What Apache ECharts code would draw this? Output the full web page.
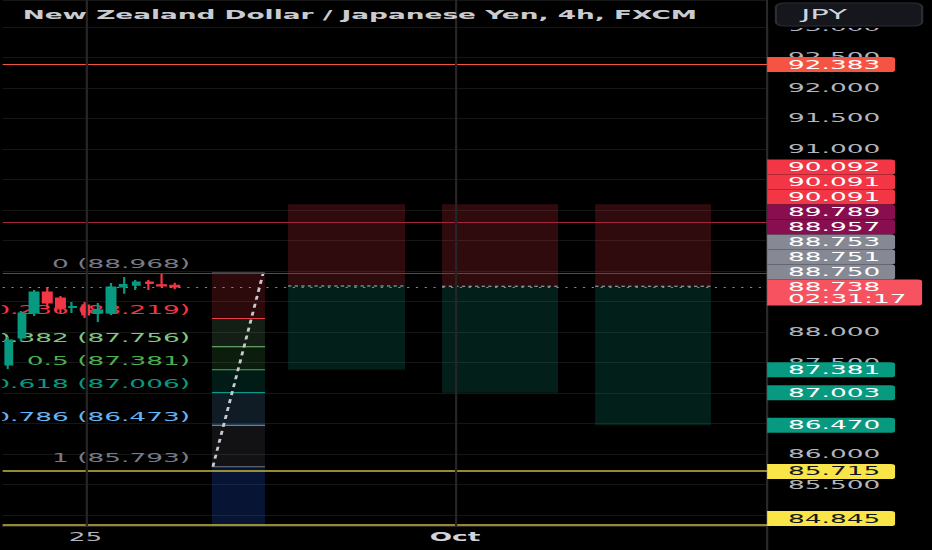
<!DOCTYPE html>
<html><head><meta charset="utf-8">
<script src="https://cdn.jsdelivr.net/npm/echarts@6/dist/echarts.min.js"></script>
<style>
html,body{margin:0;padding:0;background:#000;overflow:hidden;}
#wrap{width:932px;height:550px;overflow:hidden;background:#000;}
#chart{width:424px;height:550px;transform:scaleX(2.19811);transform-origin:0 0;}
</style></head>
<body><div id="wrap"><div id="chart"></div></div>
<script>
// ---- data ----
const titleText = 'New Zealand Dollar / Japanese Yen, 4h, FXCM';
const currencyText = 'JPY';
const countdownText = '02:31:17';

const categories = [
  '09-22 00:00','09-22 04:00','09-22 08:00','09-22 12:00','09-22 16:00','09-24 20:00',
  '09-25 00:00','09-25 04:00','09-25 08:00','09-25 12:00','09-25 16:00','09-25 20:00',
  '09-26 00:00','09-26 04:00','09-26 08:00','09-26 12:00','09-26 16:00','09-26 20:00',
  '09-27 00:00','09-27 04:00','09-27 08:00','09-27 12:00','09-27 16:00','09-27 20:00',
  '09-28 00:00','09-28 04:00','09-28 08:00','09-28 12:00','09-28 16:00','09-28 20:00',
  '09-29 00:00','09-29 04:00','09-29 08:00','09-29 12:00','09-29 16:00',
  '10-01 20:00',
  '10-02 00:00','10-02 04:00','10-02 08:00','10-02 12:00','10-02 16:00','10-02 20:00',
  '10-03 00:00','10-03 04:00','10-03 08:00','10-03 12:00','10-03 16:00','10-03 20:00',
  '10-04 00:00','10-04 04:00','10-04 08:00','10-04 12:00','10-04 16:00','10-04 20:00',
  '10-05 00:00','10-05 04:00','10-05 08:00','10-05 12:00','10-05 16:00','10-05 20:00'
];
const xTickLabels = {'09-25 00:00': '25', '10-01 20:00': 'Oct'};
const boldTicks = ['10-01 20:00'];

const candleOpen  = [87.458, 87.901, 88.311, 88.655, 88.556, 88.401, 88.442, 88.311, 88.311, 88.737, 88.764, 88.818, 88.774, 88.764];
const candleClose = [87.868, 88.311, 88.655, 88.474, 88.392, 88.417, 88.278, 88.360, 88.737, 88.778, 88.818, 88.794, 88.753, 88.738];
const candleLow   = [87.393, 87.852, 88.261, 88.409, 88.311, 88.311, 88.229, 88.163, 88.278, 88.627, 88.688, 88.688, 88.737, 88.699];
const candleHigh  = [87.917, 88.343, 88.688, 88.737, 88.589, 88.491, 88.491, 88.474, 88.802, 88.901, 88.851, 88.851, 88.960, 88.807];

const yMin = 84.82, yMax = 93.44, yStep = 0.5;

// fib retracement
const fibRatios = [0, 0.236, 0.382, 0.5, 0.618, 0.786, 1, 1.618];
const fibPrices = [88.968, 88.219, 87.756, 87.381, 87.006, 86.473, 85.793, 83.831];
const fibStartX = 15.93, fibEndX = 20.09;
const trendFrom = [16.0, 85.793], trendTo = [19.95, 88.968];

// long positions
const posStart  = [21.9, 33.99, 46.0];
const posEnd    = [31.08, 43.09, 55.1];
const posStop   = [90.092, 90.091, 90.091];
const posEntry  = [88.753, 88.751, 88.750];
const posTarget = [87.381, 87.003, 86.470];

// horizontal lines
const hLinePrices = [92.383, 89.789, 88.957, 85.715, 84.845, 88.738];
const hLineKinds  = ['alert', 'level', 'level', 'support', 'support', 'last'];

// price scale tags
const tagPrices = [92.383, 90.092, 90.091, 90.091, 89.789, 88.957, 88.753, 88.751, 88.750, 88.738, 87.381, 87.003, 86.470, 85.715, 84.845];
const tagKinds  = ['alert','stop','stop','stop','level','level','entry','entry','entry','last','target','target','target','support','support'];

// ---- styles ----
const FONT = '"DejaVu Sans", Verdana, sans-serif';
const FS = 12;
const fibColors = ['#787b86','#f23645','#81c784','#4caf50','#089981','#64b5f6','#787b86','#2962ff'];
const fibFills  = ['', 'rgba(242,54,69,0.18)','rgba(129,199,132,0.15)','rgba(76,175,80,0.16)','rgba(8,153,129,0.18)','rgba(100,181,246,0.15)','rgba(120,123,134,0.15)','rgba(41,98,255,0.2)'];
const lineStyles = {
  alert:   {color:'#f55442', width:1, type:'solid'},
  level:   {color:'#a3243f', width:1, type:'solid'},
  support: {color:'#c9b83c', width:1.5, type:'solid'},
  last:    {color:'#f7525f', width:1, type:[1,3]}
};
const tagStyle = {
  alert:   {bg:'#f55442', fg:'#ffffff', w:58.2},
  stop:    {bg:'#f23645', fg:'#ffffff', w:58.2},
  level:   {bg:'#880e4f', fg:'#ffffff', w:58.2},
  entry:   {bg:'#868993', fg:'#ffffff', w:58.2},
  last:    {bg:'#f7525f', fg:'#ffffff', w:70.5},
  target:  {bg:'#089981', fg:'#ffffff', w:58.2},
  support: {bg:'#f9e547', fg:'#131722', w:58.2}
};
const TAG_H = 15, LAST_H = 26;
const GRID = {left: 1.2, right: 75, top: 0, bottom: 24};

const chartEl = document.getElementById('chart');
const chart = echarts.init(chartEl, null, {renderer:'svg'});
const W = chart.getWidth(), H = chart.getHeight();

const candleData = candleOpen.map((o, i) => [o, candleClose[i], candleLow[i], candleHigh[i]]);

// stack price-scale tags like the trading terminal does (pixel positions come from the axis)
function layoutTags(toY, paneBottom) {
  const n = tagPrices.length;
  const cy = tagPrices.map(toY);
  const h = tagKinds.map(k => k === 'last' ? LAST_H : TAG_H);
  const tops = new Array(n);
  const li = tagKinds.indexOf('last');
  tops[li] = cy[li] - TAG_H / 2;
  const idx = tagPrices.map((p, i) => i).filter(i => i !== li);
  const above = idx.filter(i => tagPrices[i] > tagPrices[li]).sort((a, b) => tagPrices[a] - tagPrices[b] || b - a);
  const below = idx.filter(i => tagPrices[i] <= tagPrices[li]).sort((a, b) => tagPrices[b] - tagPrices[a] || a - b);
  let bound = tops[li];
  above.forEach(i => { tops[i] = Math.min(cy[i] - TAG_H / 2, bound - h[i]); bound = tops[i]; });
  bound = tops[li] + h[li];
  below.forEach(i => { tops[i] = Math.max(cy[i] - TAG_H / 2, bound); bound = tops[i] + h[i]; });
  let limit = paneBottom;
  for (let j = below.length - 1; j >= 0; j--) {
    const i = below[j];
    if (tops[i] + h[i] > limit) tops[i] = limit - h[i];
    limit = tops[i];
  }
  return {tops, h};
}

const hiddenTicks = new Set();
function yLabelFormatter(v) {
  const s = v.toFixed(3);
  return hiddenTicks.has(s) ? '' : s;
}

const markLineData = hLinePrices.map((p, i) => ({yAxis: p, lineStyle: lineStyles[hLineKinds[i]]}))
  .concat(Object.keys(xTickLabels).map(k => ({xAxis: k, lineStyle: {color:'#262626', width:1, type:'solid'}})));

const scaleX = W - GRID.right;

const option = {
  backgroundColor: '#000000',
  animation: false,
  title: {
    text: titleText, left: 10.3, top: 9, padding: 0,
    textStyle: {color:'#c9cbd1', fontSize:12, fontWeight:'bold', fontFamily: FONT}
  },
  graphic: [{
    type:'line', z: 5, silent: true,
    shape:{x1: scaleX, y1: 0, x2: scaleX, y2: H}, style:{stroke:'#2a2a2a', lineWidth:1}
  }, {
    type:'group', left: scaleX + 0.5, top: 0, z: 100,
    children: [
      {type:'rect', z: 100, shape:{x:0, y:0, width: W - scaleX - 0.5, height:28}, style:{fill:'#000000'}},
      {type:'rect', z: 101, shape:{x:3.5, y:3, width:66.5, height:23, r:4}, style:{fill:'#15171c', stroke:'#2a2e39', lineWidth:1}},
      {type:'text', z: 102, x: 15, y: 14.5, style:{text: currencyText, fill:'#d1d4dc', fontSize:14, fontFamily: FONT, verticalAlign:'middle'}}
    ]
  }],
  grid: Object.assign({containLabel: false}, GRID),
  xAxis: [{
    type:'category', data: categories, boundaryGap: true,
    axisLine:{show:true, lineStyle:{color:'#2a2a2a'}},
    axisTick:{show:false},
    splitLine:{show:false},
    axisLabel:{
      interval: (i, v) => v in xTickLabels,
      formatter: v => boldTicks.indexOf(v) >= 0 ? '{m|' + xTickLabels[v] + '}' : (xTickLabels[v] || ''),
      color:'#b2b5be', fontSize:FS, fontFamily: FONT, margin: 5,
      rich: {m: {color:'#d1d4dc', fontWeight:'bold', fontSize:FS, fontFamily: FONT}}
    }
  }, {
    type:'value', min: -0.5, max: categories.length - 0.5, show: false
  }],
  yAxis: {
    type:'value', position:'right', min: yMin, max: yMax,
    minInterval: yStep, maxInterval: yStep, splitNumber: 17,
    axisLine:{show:false, onZero:false},
    axisTick:{show:false},
    axisLabel:{color:'#b2b5be', fontSize:FS, fontFamily: FONT, margin: 9.5,
      formatter: yLabelFormatter, showMinLabel:false, showMaxLabel:false},
    splitLine:{show:true, lineStyle:{color:'#161616', width:1}}
  },
  series: [
    {
      type:'custom', name:'positions', xAxisIndex:1, yAxisIndex:0, clip:true, z:1, silent:true,
      data: posStart.map((x, i) => [x, posEntry[i], i]),
      encode: {x:0, y:1},
      renderItem: function (params, api) {
        const i = params.dataIndex;
        const a = api.coord([posStart[i], posStop[i]]);
        const b = api.coord([posEnd[i], posEntry[i]]);
        const c = api.coord([posEnd[i], posTarget[i]]);
        return {type:'group', children:[
          {type:'rect', shape:{x:a[0], y:a[1], width:b[0]-a[0], height:b[1]-a[1]}, style:{fill:'rgba(242,54,69,0.2)'}},
          {type:'rect', shape:{x:a[0], y:b[1], width:b[0]-a[0], height:c[1]-b[1]}, style:{fill:'rgba(8,153,129,0.2)'}},
          {type:'line', shape:{x1:a[0], y1:b[1], x2:b[0], y2:b[1]}, style:{stroke:'#b2b5be', lineWidth:1, lineDash:[1.5,1.5]}}
        ]};
      }
    },
    {
      type:'custom', name:'fib', xAxisIndex:1, yAxisIndex:0, clip:true, z:1, silent:true,
      data: fibPrices.map((p, i) => [fibStartX, p, i]),
      encode: {x:0, y:1},
      renderItem: function (params, api) {
        const k = params.dataIndex;
        const p = api.coord([fibStartX, fibPrices[k]]);
        const q = api.coord([fibEndX, fibPrices[k]]);
        const ch = [];
        if (k > 0) {
          const yPrev = api.coord([fibStartX, fibPrices[k-1]])[1];
          ch.push({type:'rect', shape:{x:p[0], y:yPrev, width:q[0]-p[0], height:p[1]-yPrev}, style:{fill: fibFills[k]}});
        }
        ch.push({type:'line', shape:{x1:p[0], y1:p[1], x2:q[0], y2:p[1]}, style:{stroke: fibColors[k], lineWidth:1}});
        ch.push({type:'text', x: p[0] - 10, y: p[1] - 2.5, style:{
          text: fibRatios[k] + ' (' + fibPrices[k].toFixed(3) + ')', fill: fibColors[k],
          fontSize:FS, fontFamily: FONT, align:'right', verticalAlign:'bottom'}});
        if (k === fibPrices.length - 1) {
          const t0 = api.coord(trendFrom), t1 = api.coord(trendTo);
          ch.push({type:'line', z2: 10, shape:{x1:t0[0], y1:t0[1], x2:t1[0], y2:t1[1]}, style:{stroke:'#c8cad0', lineWidth:1.3, lineDash:[4,4]}});
        }
        return {type:'group', children: ch};
      }
    },
    {
      type:'candlestick', name:'NZDJPY', xAxisIndex:0, yAxisIndex:0, z:3,
      data: candleData, barWidth:'68%',
      itemStyle:{color:'#089981', color0:'#f23645', borderColor:'#089981', borderColor0:'#f23645', borderWidth:1},
      markLine:{symbol:['none','none'], silent:true, animation:false, label:{show:false}, emphasis:{disabled:true},
        data: markLineData}
    },
    {
      type:'custom', name:'tags', xAxisIndex:1, yAxisIndex:0, clip:false, z:10, silent:true,
      data: tagPrices.map((p, i) => [categories.length - 0.5, p, i]),
      encode: {x:0, y:1},
      renderItem: function (params, api) {
        const cs = params.coordSys;
        const gx = cs.x + cs.width;
        const L = layoutTags(p => api.coord([0, p])[1], cs.y + cs.height);
        const i = params.dataIndex;
        const st = tagStyle[tagKinds[i]];
        const top = L.tops[i], h = L.h[i];
        const isLast = tagKinds[i] === 'last';
        return {type:'group', children: [
          {type:'rect', shape:{x:gx, y:top, width:st.w, height:h, r:[0,2,2,0]}, style:{fill: st.bg}},
          {type:'text', x: gx + 9.5, y: top + (isLast ? 1 : 7.5), style:{
            text: isLast ? tagPrices[i].toFixed(3) + '\n' + countdownText : tagPrices[i].toFixed(3),
            lineHeight: 12.5, fill: st.fg, fontSize:FS, fontFamily: FONT,
            verticalAlign: isLast ? 'top' : 'middle', align:'left'}}
        ]};
      }
    }
  ]
};
chart.setOption(option);

// hide the price-scale labels that the tags cover entirely
(function () {
  const toY = p => chart.convertToPixel({yAxisIndex: 0}, p);
  const paneBottom = toY(yMin);
  const L = layoutTags(toY, paneBottom);
  const half = FS * 0.37;
  for (let v = Math.ceil(yMin / yStep) * yStep; v <= yMax; v += yStep) {
    const py = toY(v);
    const lo = py - half, hi = py + half;
    let covered = 0;
    L.tops.forEach((t, i) => {
      covered += Math.max(0, Math.min(hi, t + L.h[i]) - Math.max(lo, t));
    });
    if (covered / (hi - lo) > 0.75) hiddenTicks.add(v.toFixed(3));
  }
  option.yAxis.axisLabel.formatter = v => yLabelFormatter(v);
  chart.setOption(option, true);
})();
</script></body></html>
